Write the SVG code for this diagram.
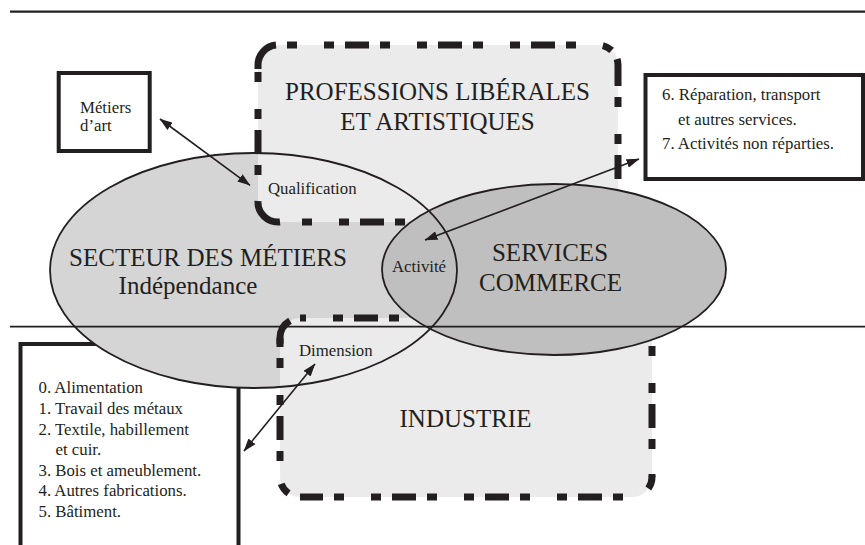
<svg xmlns="http://www.w3.org/2000/svg" width="865" height="545" viewBox="0 0 865 545">
<defs>
<style>
.bg{fill:#ffffff}
.rule{stroke:#231f20;fill:none}
.solidbox{fill:#ffffff;stroke:#231f20;stroke-width:4}
.lightbox{fill:#ebebeb;stroke:none}
.dash{fill:none;stroke:#231f20;stroke-width:7;stroke-linecap:butt;stroke-dasharray:10,27,10,11,24,11}
.corner{fill:none;stroke:#231f20;stroke-width:7;stroke-linecap:butt}
.sect{fill:#d5d5d5;stroke:none}
.outline{fill:none;stroke:#231f20;stroke-width:1.8}
.serv{fill:#bfbfbf;stroke:#231f20;stroke-width:1.8}
.arrow{fill:none;stroke:#231f20;stroke-width:1.6;marker-start:url(#ah);marker-end:url(#ah)}
.big{font-family:'Liberation Serif','DejaVu Serif',serif;font-size:25px;fill:#231f20}
.small{font-family:'Liberation Serif','DejaVu Serif',serif;font-size:16.8px;fill:#231f20}
</style>
<marker id="ah" markerWidth="13" markerHeight="9" refX="12.5" refY="4.5" orient="auto-start-reverse" markerUnits="userSpaceOnUse">
<path d="M0,0 L13,4.5 L0,9 z" fill="#231f20"/>
</marker>
</defs>
<rect class="bg" x="0" y="0" width="865" height="545"/>

<g id="industrie-list">
<rect class="solidbox" x="20.5" y="344" width="218" height="220"/>
<text class="small" font-family="Liberation Serif, serif" x="38.5" y="393">0. Alimentation</text>
<text class="small" font-family="Liberation Serif, serif" x="38.5" y="414">1. Travail des métaux</text>
<text class="small" font-family="Liberation Serif, serif" x="38.5" y="435">2. Textile, habillement</text>
<text class="small" font-family="Liberation Serif, serif" x="55.5" y="455">et cuir.</text>
<text class="small" font-family="Liberation Serif, serif" x="38.5" y="476">3. Bois et ameublement.</text>
<text class="small" font-family="Liberation Serif, serif" x="38.5" y="496">4. Autres fabrications.</text>
<text class="small" font-family="Liberation Serif, serif" x="38.5" y="517">5. Bâtiment.</text>
</g>

<g id="metiers-art">
<rect class="solidbox" x="58.7" y="73" width="91" height="78"/>
<text class="small" x="80" y="113">Métiers</text>
<text class="small" x="80" y="131">d’art</text>
</g>

<g id="services-list">
<rect class="solidbox" x="645.5" y="75" width="217.5" height="104"/>
<text class="small" x="662" y="100">6. Réparation, transport</text>
<text class="small" x="678" y="124.5">et autres services.</text>
<text class="small" x="662" y="149">7. Activités non réparties.</text>
</g>

<g id="secteur">
<ellipse class="sect" cx="253.5" cy="270.5" rx="203.5" ry="117.5"/>
<text class="big" x="208" y="266" text-anchor="middle">SECTEUR DES MÉTIERS</text>
<text class="big" x="188" y="294" text-anchor="middle">Indépendance</text>
</g>

<g id="professions">
<rect class="lightbox" x="258" y="45" width="360" height="177" rx="20" ry="20"/>
<line class="dash" x1="278" y1="45" x2="598" y2="45" stroke-dashoffset="84"/>
<line class="dash" x1="618" y1="65" x2="618" y2="202" stroke-dashoffset="61"/>
<line class="dash" x1="291" y1="222" x2="598" y2="222" stroke-dashoffset="82"/>
<line class="dash" x1="258" y1="65" x2="258" y2="202" stroke-dashoffset="86"/>
<path class="corner" d="M258,69 L258,65 A20,20 0 0 1 276,45.1"/>
<path class="corner" d="M602.84,45.59 A20,20 0 0 1 611.64,50.37 M617.08,58.99 A20,20 0 0 1 618,65"/>
<path class="corner" d="M258,201 A20,20 0 0 0 280,222"/>
<text class="big" x="437.5" y="99.5" text-anchor="middle">PROFESSIONS LIBÉRALES</text>
<text class="big" x="437.5" y="130" text-anchor="middle">ET ARTISTIQUES</text>
</g>

<g id="industrie">
<rect class="lightbox" x="280" y="318" width="372" height="179" rx="20" ry="20"/>
<line class="dash" x1="300" y1="318" x2="632" y2="318" stroke-dashoffset="4"/>
<line class="dash" x1="652" y1="338" x2="652" y2="477" stroke-dashoffset="85"/>
<line class="dash" x1="300" y1="497" x2="632" y2="497" stroke-dashoffset="59"/>
<line class="dash" x1="280" y1="338" x2="280" y2="477" stroke-dashoffset="73"/>
<path class="corner" d="M280,344 L280,338 A20,20 0 0 1 290,320.68"/>
<path class="corner" d="M281.21,483.84 A20,20 0 0 0 288.53,493.38"/>
<path class="corner" d="M652,474 L652,477 A20,20 0 0 1 648.38,488.47"/>
<text class="big" x="465.5" y="427" text-anchor="middle">INDUSTRIE</text>
</g>

<g id="services">
<ellipse class="serv" cx="554" cy="269.5" rx="172" ry="85.5"/>
<text class="big" x="550" y="261" text-anchor="middle">SERVICES</text>
<text class="big" x="550.5" y="291" text-anchor="middle">COMMERCE</text>
</g>

<g id="secteur-outline">
<ellipse class="outline" cx="253.5" cy="270.5" rx="203.5" ry="117.5"/>
</g>

<g id="rules">
<line class="rule" x1="10" y1="11.7" x2="865" y2="11.7" stroke-width="2.2"/>
<line class="rule" x1="10" y1="326.7" x2="865" y2="326.7" stroke-width="1.8"/>
</g>

<g id="labels">
<text class="small" x="268" y="194">Qualification</text>
<text class="small" x="392" y="271.5">Activité</text>
<text class="small" x="299" y="355.5">Dimension</text>
</g>

<g id="connectors">
<line class="arrow" x1="160" y1="119" x2="250" y2="185.3"/>
<line class="arrow" x1="639" y1="159" x2="425" y2="240"/>
<line class="arrow" x1="244" y1="451" x2="315" y2="364"/>
</g>
</svg>
